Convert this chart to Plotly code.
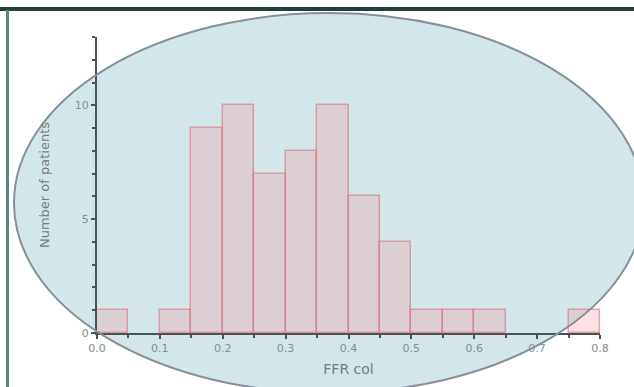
import plotly.graph_objects as go

# Histogram of FFR col values, bin width 0.05
bin_left = [0.00, 0.05, 0.10, 0.15, 0.20, 0.25, 0.30, 0.35,
            0.40, 0.45, 0.50, 0.55, 0.60, 0.65, 0.70, 0.75]
counts = [1, 0, 1, 9, 10, 7, 8, 10, 6, 4, 1, 1, 1, 0, 0, 1]
bin_width = 0.05

x_ticks = [0.0, 0.1, 0.2, 0.3, 0.4, 0.5, 0.6, 0.7, 0.8]
x_tick_labels = ["0.0", "0.1", "0.2", "0.3", "0.4", "0.5", "0.6", "0.7", "0.8"]
y_ticks = [0, 5, 10]
y_tick_labels = ["0", "5", "10"]

W, H = 634, 387

centers = [b + bin_width / 2 for b in bin_left]
# empty bins get no outline so nothing is drawn along the axis
edge_widths = [1.5 if c > 0 else 0 for c in counts]

fig = go.Figure()
fig.add_trace(go.Bar(
    x=centers,
    y=counts,
    width=[bin_width] * len(counts),
    marker=dict(color="rgba(245,150,155,0.28)",
                line=dict(color="rgba(215,120,130,0.65)", width=edge_widths)),
    hoverinfo="x+y",
))

axis_col = "#4a5257"
tick_font = dict(family="DejaVu Sans", size=11, color="#848d90")
title_col = "#737c7f"

fig.update_layout(
    width=W, height=H,
    margin=dict(l=0, r=0, t=0, b=0, autoexpand=False),
    paper_bgcolor="white",
    plot_bgcolor="rgba(0,0,0,0)",
    showlegend=False,
    bargap=0,
    xaxis=dict(
        domain=[97 / W, 600 / W],
        range=[0, 0.8],
        tickvals=x_ticks, ticktext=x_tick_labels,
        ticks="outside", ticklen=4, tickwidth=1.5, tickcolor=axis_col,
        showline=True, linecolor=axis_col, linewidth=2,
        showgrid=False, zeroline=False,
        tickfont=tick_font,
        minor=dict(dtick=0.05, ticks="outside", ticklen=3, tickcolor=axis_col, showgrid=False),
        title=dict(text="FFR col", font=dict(family="DejaVu Sans", size=14, color=title_col), standoff=10),
    ),
    yaxis=dict(
        domain=[(H - 333) / H, (H - 37) / H],
        range=[0, 13],
        tickvals=y_ticks, ticktext=y_tick_labels,
        ticks="outside", ticklen=4, tickwidth=1.5, tickcolor=axis_col,
        showline=True, linecolor=axis_col, linewidth=2,
        showgrid=False, zeroline=False,
        tickfont=tick_font,
        minor=dict(dtick=1, ticks="outside", ticklen=3, tickcolor=axis_col, showgrid=False),
        title=dict(text="Number of patients", font=dict(family="DejaVu Sans", size=13, color=title_col), standoff=22),
    ),
    shapes=[
        # light blue ellipse behind the chart
        dict(type="circle", xref="paper", yref="paper",
             x0=14 / W, x1=644 / W, y0=(H - 393) / H, y1=(H - 13) / H,
             fillcolor="#d3e7ea", line=dict(width=0), layer="below"),
        # ellipse outline on top
        dict(type="circle", xref="paper", yref="paper",
             x0=14 / W, x1=644 / W, y0=(H - 393) / H, y1=(H - 13) / H,
             fillcolor="rgba(0,0,0,0)", line=dict(color="#86909a", width=2), layer="above"),
        # frame lines
        dict(type="rect", xref="paper", yref="paper",
             x0=0, x1=1, y0=(H - 11) / H, y1=(H - 7) / H,
             fillcolor="#23403d", line=dict(width=0), layer="above"),
        dict(type="rect", xref="paper", yref="paper",
             x0=6 / W, x1=9 / W, y0=0, y1=(H - 10) / H,
             fillcolor="#5d8480", line=dict(width=0), layer="above"),
    ],
)

fig.write_html("out.html")
